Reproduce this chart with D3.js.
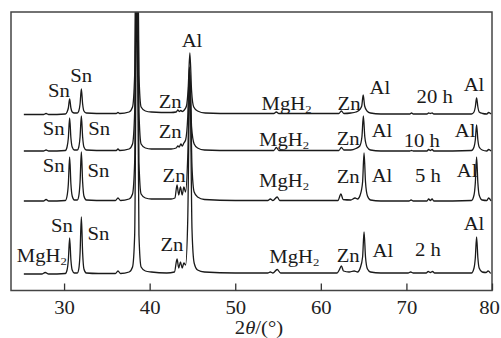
<!DOCTYPE html>
<html>
<head>
<meta charset="utf-8">
<script src="https://cdn.jsdelivr.net/npm/d3@7/dist/d3.min.js"></script>
<style>
  html, body { margin: 0; padding: 0; background: #fff; }
  svg { display: block; font-family: "Liberation Serif", "DejaVu Serif", serif; }
</style>
</head>
<body>
<div id="chart"></div>
<script>
// XRD patterns after 2, 5, 10 and 20 h of milling (2θ in degrees, intensity in a.u.)
const traceNames = ['2 h', '5 h', '10 h', '20 h'];
// vertical offset of each pattern's baseline, same units as intensity
const traceOffsets = [15.5, 88.5, 138.5, 175.5];
const xTicks = [30, 40, 50, 60, 70, 80];

// vertices: [2θ, intensity above the pattern's baseline]
const pattern2h = [
  [25.3,1],[27.4,1],[27.8,2.5],[28.2,1],[30.15,1.5],[30.35,5],[30.5,15],[30.65,37],[30.8,15],
  [30.95,5],[31.2,2],[31.55,2],[31.72,6],[31.87,22],[32.02,58],[32.17,22],[32.32,6],[32.6,2],
  [34,1.5],[36.0,1.5],[36.3,4],[36.6,1.5],[37.6,3],[38.0,8],[38.25,40],[38.5,300],[38.75,40],
  [39.0,8],[39.5,4],[40.2,3],[42,2],[42.9,3],[43.2,16],[43.4,7],[43.6,13],[43.8,7],[44.0,12],
  [44.2,10],[44.45,55],[44.7,200],[44.95,45],[45.2,12],[45.6,5],[46.4,3],[50,2],[53.8,2],
  [54.1,3],[54.4,2],[54.9,5.5],[55.3,2],[58,2],[61.9,2],[62.15,5],[62.4,9],[62.65,4],[63.3,3],
  [63.9,4],[64.3,3],[64.6,7],[64.88,18],[65.05,43],[65.22,18],[65.45,6],[65.8,3],[67,2],
  [70.2,2],[70.5,3],[70.8,2],[72.3,2],[72.55,3.5],[72.8,2.5],[73.05,3.5],[73.3,2],[77.6,2],
  [77.9,7],[78.05,17],[78.2,38],[78.35,17],[78.5,7],[78.85,3],[79.3,2.5],[79.55,4],[79.85,1.5]
];
const pattern5h = [
  [25.3,1],[27.6,1],[27.9,2.5],[28.2,1],[30.15,1.5],[30.35,6],[30.5,18],[30.65,45],[30.8,18],
  [30.95,6],[31.2,2],[31.55,2],[31.72,6],[31.87,20],[32.02,50],[32.17,20],[32.32,6],[32.6,2],
  [35,1.5],[36.0,1.5],[36.3,4],[36.6,1.5],[37.6,3],[38.0,8],[38.25,40],[38.5,300],[38.75,40],
  [39.0,8],[39.5,4],[40.2,3],[42.5,3],[42.95,4],[43.2,17],[43.4,7],[43.6,15],[43.8,7],[44.0,15],
  [44.2,10],[44.45,45],[44.7,130],[44.95,35],[45.2,10],[45.6,5],[46.4,2.5],[50,1.5],[53.8,1.5],
  [54.1,3],[54.4,1.5],[54.9,5],[55.2,1.5],[58,1.5],[62.0,1.5],[62.35,8],[62.6,2.5],[63.5,2],
  [64.0,4],[64.3,3],[64.6,7],[64.88,20],[65.05,49],[65.22,20],[65.45,6],[65.8,2],[67,1],
  [70.3,1],[70.55,2],[70.8,1],[72.4,1],[72.6,3],[72.8,1.5],[73.0,3],[73.2,1],[77.6,1.5],
  [77.9,7],[78.05,19],[78.2,45],[78.35,19],[78.5,7],[78.85,2],[79.4,1.5],[79.6,4],[79.9,1]
];
const pattern10h = [
  [25.3,1],[27.6,1],[27.9,2],[28.2,1],[30.15,1.5],[30.35,5],[30.5,14],[30.65,34],[30.8,14],
  [30.95,5],[31.2,2],[31.55,2],[31.72,5],[31.87,15],[32.02,36],[32.17,15],[32.32,5],[32.6,2],
  [35,1.5],[36.1,1.5],[36.3,3],[36.5,1.5],[37.6,3],[38.0,8],[38.25,40],[38.5,300],[38.75,40],
  [39.0,8],[39.5,4],[40.2,3],[42.5,3],[43.1,4],[43.3,6],[43.45,5],[43.65,8],[43.8,6],[44.0,9],
  [44.2,12],[44.45,35],[44.65,85],[44.9,25],[45.2,8],[45.6,4],[46.4,2],[50,1.5],[54.5,1.5],
  [54.8,4.5],[55.1,1.5],[58,1.5],[62.1,1.5],[62.4,4.5],[62.7,2],[63.5,2],[64.1,3.5],[64.55,6],
  [64.8,15],[64.97,36],[65.14,15],[65.4,5],[65.8,2],[67,1],[70.4,1],[70.6,1.5],[70.8,1],
  [72.4,1],[72.6,2.5],[72.8,1.5],[73.0,2.5],[73.2,1],[77.6,1.5],[77.9,5],[78.05,12],[78.2,27],
  [78.35,12],[78.5,5],[78.85,2],[79.4,1],[79.6,2.5],[79.9,1]
];
const pattern20h = [
  [25.3,0.5],[27.6,0.5],[27.9,1.5],[28.2,0.5],[30.15,1],[30.35,3],[30.5,7],[30.65,16],[30.8,7],
  [30.95,3],[31.2,2],[31.55,2],[31.72,4],[31.87,11],[32.02,26],[32.17,11],[32.32,4],[32.6,2],
  [35,1.5],[36.1,1.5],[36.3,2.5],[36.5,1.5],[37.6,3],[38.0,8],[38.25,40],[38.5,300],[38.75,40],
  [39.0,8],[39.5,4],[40.2,3],[42.5,2.5],[43.1,3],[43.3,5],[43.45,3.5],[43.65,4.5],[43.8,3.5],
  [44.05,5],[44.3,9],[44.5,26],[44.7,62],[44.9,24],[45.15,8],[45.6,4],[46.5,2],[50,1.5],
  [54.5,1.5],[54.8,3],[55.1,1.5],[58,1.5],[62.1,1.5],[62.4,4],[62.7,1.5],[63.5,2],[64.1,3],
  [64.5,5],[64.78,9],[64.95,20],[65.12,9],[65.4,4],[65.8,2],[67,1],[70.4,1],[70.6,2],[70.8,1],
  [72.4,1],[72.6,2],[72.8,1.5],[73.0,2],[73.2,1],[77.6,1],[77.9,3],[78.05,8],[78.2,17],
  [78.35,8],[78.5,3],[78.9,1.5],[79.4,1],[79.6,2.5],[79.9,1]
];
const patterns = [pattern2h, pattern5h, pattern10h, pattern20h];

// phase labels: [text, 2θ, intensity (absolute, same scale as offsets)]
const phaseLabels = [
  // 20 h
  ['Sn', 29.4, 193.5], ['Sn', 32.0, 208.5], ['Zn', 42.4, 182.5], ['Al', 44.95, 243.5],
  ['MgH2', 56.0, 180.5], ['Zn', 63.3, 180.5], ['Al', 66.9, 196.5], ['20 h', 73.3, 187.5],
  ['Al', 77.9, 199.5],
  // 10 h
  ['Sn', 28.8, 155.5], ['Sn', 34.1, 155.5], ['Zn', 42.4, 152.5], ['MgH2', 55.7, 144.5],
  ['Zn', 63.2, 145.5], ['Al', 67.15, 153.5], ['10 h', 71.8, 143.5], ['Al', 76.85, 153.5],
  // 5 h
  ['Sn', 28.8, 118.5], ['Sn', 34.0, 113.5], ['Zn', 42.85, 108.5], ['MgH2', 55.7, 103.5],
  ['Zn', 63.2, 107.5], ['Al', 67.15, 108.5], ['5 h', 72.5, 108.5], ['Al', 77.1, 113.5],
  // 2 h
  ['MgH2', 27.4, 28.5], ['Sn', 29.75, 58.5], ['Sn', 34.0, 50.5], ['Zn', 42.6, 39.5],
  ['MgH2', 56.9, 27.5], ['Zn', 63.2, 28.5], ['Al', 67.25, 33.5], ['2 h', 72.5, 34.5],
  ['Al', 77.9, 60.5]
];

const width = 501, height = 338;
const plot = { left: 11, right: 492, top: 12, bottom: 290.5 };
const stretch = 1.15; // the printed glyphs are a bit wider than plain Times

const x = d3.scaleLinear().domain([23.8, 80]).range([plot.left, plot.right]);
const y = d3.scaleLinear().domain([0, 278.5]).range([plot.bottom, plot.top]);

const svg = d3.select('#chart').append('svg')
  .attr('width', width)
  .attr('height', height)
  .attr('viewBox', `0 0 ${width} ${height}`);

svg.append('defs').append('clipPath').attr('id', 'plot-clip')
  .append('rect')
  .attr('x', plot.left).attr('y', plot.top)
  .attr('width', plot.right - plot.left).attr('height', plot.bottom - plot.top);

// patterns
const line = d3.line()
  .x(d => x(d[0]))
  .curve(d3.curveMonotoneX);

svg.append('g')
  .attr('clip-path', 'url(#plot-clip)')
  .selectAll('path')
  .data(patterns)
  .join('path')
  .attr('fill', 'none')
  .attr('stroke', '#1a1a1a')
  .attr('stroke-width', 1.3)
  .attr('stroke-linejoin', 'round')
  .attr('d', (d, i) => line.y(p => y(p[1] + traceOffsets[i]))(d));

// frame
svg.append('rect')
  .attr('x', plot.left).attr('y', plot.top)
  .attr('width', plot.right - plot.left).attr('height', plot.bottom - plot.top)
  .attr('fill', 'none')
  .attr('stroke', '#444')
  .attr('stroke-width', 1.5);

// bottom axis, ticks pointing inward
const xAxis = d3.axisBottom(x)
  .tickValues(xTicks)
  .tickSizeInner(-7)
  .tickSizeOuter(0)
  .tickPadding(11);

const axisG = svg.append('g')
  .attr('transform', `translate(0,${plot.bottom})`)
  .call(xAxis);
axisG.select('.domain').remove();
axisG.selectAll('.tick line').attr('stroke', '#333').attr('stroke-width', 1.3);
axisG.selectAll('.tick text')
  .attr('fill', '#222')
  .attr('transform', (d, i, n) => i === n.length - 1
    ? `translate(-3,0) scale(${stretch},1)` : `scale(${stretch},1)`)
  .style('font-family', '"Liberation Serif", serif')
  .style('font-size', '18px');

// axis title
const title = svg.append('text')
  .attr('transform', `translate(259,334) scale(${stretch},1)`)
  .attr('text-anchor', 'middle')
  .attr('fill', '#222')
  .style('font-size', '18px');
title.append('tspan').text('2');
title.append('tspan').style('font-style', 'italic').text('θ');
title.append('tspan').text('/(°)');

// phase and time labels
const labels = svg.append('g')
  .selectAll('text')
  .data(phaseLabels)
  .join('text')
  .attr('transform', d => `translate(${x(d[1])},${y(d[2])}) scale(${stretch},1)`)
  .attr('text-anchor', 'middle')
  .attr('fill', '#1a1a1a')
  .style('font-size', '18px');

labels.each(function(d) {
  const t = d3.select(this);
  if (d[0] === 'MgH2') {
    t.append('tspan').text('MgH');
    t.append('tspan').attr('dy', 3).style('font-size', '11px').text('2');
  } else {
    t.text(d[0]);
  }
});
</script>
</body>
</html>
